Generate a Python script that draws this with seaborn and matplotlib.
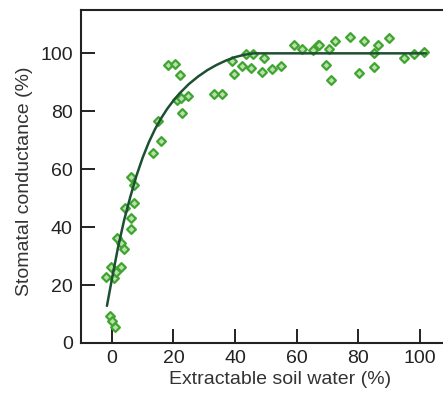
import matplotlib
matplotlib.use("Agg")
import matplotlib.pyplot as plt
import seaborn as sns
import pandas as pd

# Observed points: extractable soil water (%) vs stomatal conductance (%)
soil_water = [-0.6, 0.2, 1.1,
              -1.9, -0.3, 0.8, 1.3, 3.1,
              1.8, 3.1, 4.0,
              4.3, 6.1, 6.1, 7.2,
              6.1, 7.2,
              13.4, 15.9, 15.0, 22.7, 21.3, 22.3, 24.8, 22.1, 18.2, 20.4,
              33.1, 35.6, 39.0, 39.6, 42.1, 43.7, 45.9, 45.3, 48.8, 49.3, 52.0, 54.9,
              59.2, 61.7, 65.3, 66.8, 67.4, 70.6, 72.5, 69.5, 71.1,
              77.3, 81.9, 80.3, 85.1, 85.1, 86.5, 90.1, 94.8, 98.1, 101.3]
conductance = [9.4, 7.6, 5.6,
               22.9, 26.3, 22.3, 24.6, 26.3,
               36.1, 34.6, 32.3,
               46.7, 43.2, 39.3, 48.4,
               57.3, 54.5,
               65.6, 69.8, 76.6, 79.4, 83.8, 84.6, 85.3, 92.6, 96.1, 96.4,
               86.0, 86.0, 97.3, 92.8, 95.5, 99.9, 99.9, 95.0, 93.6, 98.5, 94.7, 95.5,
               102.8, 101.6, 101.2, 102.8, 103.0, 101.6, 104.1, 95.9, 90.7,
               105.6, 104.1, 93.3, 95.3, 100.2, 102.8, 105.3, 98.4, 99.6, 100.5]

# Fitted response curve
curve_x = [-1.6, 0, 2, 4, 6, 8, 10, 12, 14, 16, 18, 20, 22, 25, 28, 31, 34,
           37, 40, 43, 46, 50, 60, 80, 102]
curve_y = [12.8, 22.0, 33.0, 42.5, 50.5, 57.8, 64.0, 69.3, 73.8, 77.6, 80.9,
           83.7, 86.2, 89.4, 92.0, 94.2, 96.0, 97.5, 98.7, 99.5, 100.0, 100.0,
           100.0, 100.0, 100.0]

x_ticks = [0, 20, 40, 60, 80, 100]
y_ticks = [0, 20, 40, 60, 80, 100]

sns.set_style("ticks")
plt.rcParams['font.family'] = ['Liberation Sans', 'DejaVu Sans']

fig = plt.figure(figsize=(4.43, 3.96), dpi=100)
ax = fig.add_axes([0.183, 0.134, 0.817, 0.841])

pts = pd.DataFrame({"x": soil_water, "y": conductance})
crv = pd.DataFrame({"x": curve_x, "y": curve_y})

sns.scatterplot(data=pts, x="x", y="y", ax=ax, marker="D", s=20,
                facecolor="#b8e0a8", edgecolor="#3fa530", linewidth=1.6,
                zorder=2)
sns.lineplot(data=crv, x="x", y="y", ax=ax, color="#1d4f33", linewidth=1.8,
             zorder=3, estimator=None, sort=False)

ax.set_xlim(-10, 107.5)
ax.set_ylim(0, 115)
ax.set_xticks(x_ticks)
ax.set_yticks(y_ticks)
ax.tick_params(direction="in", length=10, width=1.4, labelsize=14,
               colors="#222222", pad=5)
ax.tick_params(axis="y", pad=6)
for s in ["left", "bottom", "top"]:
    ax.spines[s].set_linewidth(1.5)
    ax.spines[s].set_color("#222222")
ax.spines["right"].set_visible(False)

ax.set_xlabel("Extractable soil water (%)", fontsize=14, color="#333333")
ax.set_ylabel("Stomatal conductance (%)", fontsize=14, color="#333333")
ax.xaxis.set_label_coords(0.55, -0.085)
ax.yaxis.set_label_coords(-0.133, 0.486)

fig.savefig("out.png", dpi=100)
